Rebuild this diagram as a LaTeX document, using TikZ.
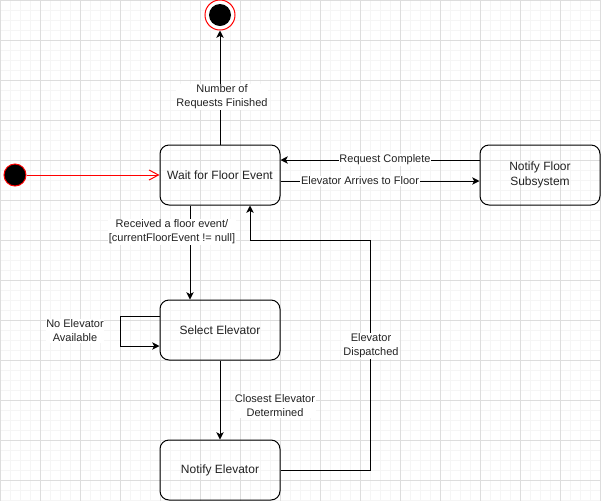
\documentclass[tikz,border=0pt]{standalone}
\usepackage{fontspec}
\setmainfont{Liberation Sans}
\usetikzlibrary{arrows.meta}
\definecolor{gridminor}{HTML}{F5F5F5}
\definecolor{gridmajor}{HTML}{DDDDDD}
\definecolor{txt}{HTML}{222222}
\tikzset{
  statebox/.style={draw, line width=0.75pt, rounded corners=6.75pt, minimum width=90pt, minimum height=45pt, inner sep=0pt, align=center, text=txt, font=\fontsize{9}{11}\selectfont},
  conn/.style={line width=0.75pt, -{Stealth[length=5.5pt,width=5.5pt,inset=1.5pt]}},
  lbl/.style={fill=white, inner sep=0.5pt, align=center, text=txt, font=\fontsize{8.25}{10.5}\selectfont},
}
\begin{document}
\begin{tikzpicture}[x=0.75pt,y=-0.75pt]
\useasboundingbox (0,0) rectangle (601,501);
\fill[white] (0,0) rectangle (601,501);
% grid
\foreach \i in {0,10,...,600} {\draw[gridminor, line width=0.75pt] (\i,0) -- (\i,501);}
\foreach \j in {0,10,...,500} {\draw[gridminor, line width=0.75pt] (0,\j) -- (601,\j);}
\foreach \i in {0,40,...,600} {\draw[gridmajor, line width=0.75pt] (\i,0) -- (\i,501);}
\foreach \j in {0,40,...,500} {\draw[gridmajor, line width=0.75pt] (0,\j) -- (601,\j);}
% states
\node[circle, draw=red, fill=black, line width=0.75pt, minimum size=16.5pt, inner sep=0pt] (start) at (15,175) {};
\node[circle, draw=red, fill=white, line width=0.75pt, minimum size=22.5pt, inner sep=0pt] (final) at (220,15) {};
\node[circle, fill=black, minimum size=16.5pt, inner sep=0pt] (finalin) at (220,15) {};
\node[statebox] (wait) at (220,175) {Wait for Floor Event};
\node[statebox] (nf) at (540,175) {Notify Floor\\Subsystem};
\node[statebox] (sel) at (220,330) {Select Elevator};
\node[statebox] (ne) at (220,470) {Notify Elevator};
% connectors
\draw[red, line width=0.75pt, -{Straight Barb[length=7pt,width=7.5pt]}] (start) -- (wait);
\draw[conn] (wait.north) -- (final.south);
\node[lbl] (lfin) at (222,97) {Number of\\Requests Finished};
\draw[conn] (nf.west |- 0,160) -- (wait.east |- 0,160);
\node[lbl] (lrc) at (385,160) {Request Complete};
\draw[conn] (wait.east |- 0,181) -- (nf.west |- 0,181);
\node[lbl] (larr) at (360,181) {Elevator Arrives to Floor};
\draw[conn] (wait.south -| 190,0) -- (sel.north -| 190,0);
\node[lbl] (lrec) at (172,232) {Received a floor event/\\{[currentFloorEvent != null]}};
\draw[conn] (sel.west |- 0,316) -- (120,316) -- (120,346) -- (sel.west |- 0,346);
\node[lbl] (lno) at (75,331) {No Elevator\\Available};
\draw[conn] (sel.south) -- (ne.north);
\node[lbl] (lclo) at (275,406) {Closest Elevator\\Determined};
\draw[conn] (ne.east) -- (370,470) -- (370,240) -- (250,240) -- (wait.south -| 250,0);
\node[lbl] (ldis) at (371,346) {Elevator\\Dispatched};
\end{tikzpicture}
\end{document}
